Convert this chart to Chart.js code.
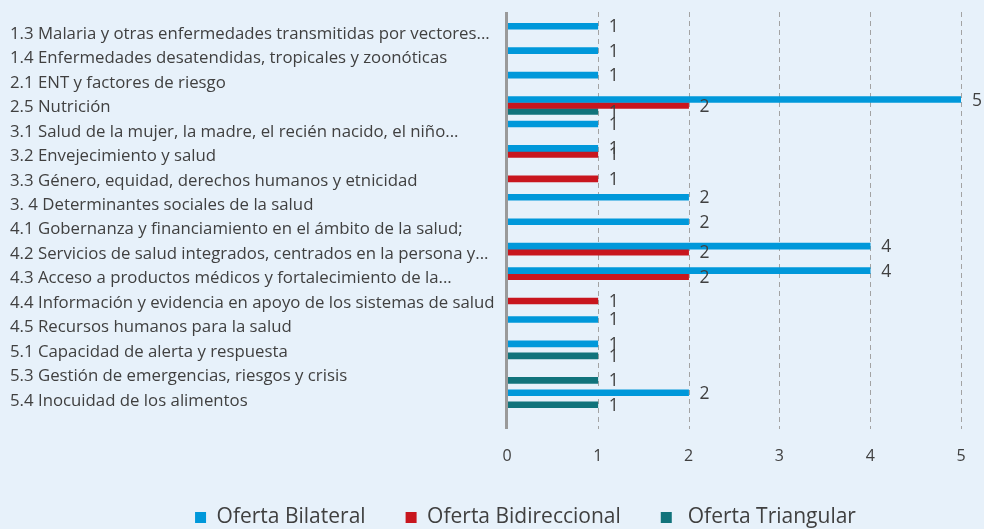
<!DOCTYPE html>
<html>
<head>
<meta charset="utf-8">
<script src="https://cdn.jsdelivr.net/npm/chart.js@4.4.1/dist/chart.umd.min.js"></script>
<style>
  html, body { margin: 0; padding: 0; background: #e7f1fa; overflow: hidden; }
  canvas { display: block; }
</style>
</head>
<body>
<canvas id="offer-chart" width="984" height="529"></canvas>
<script>
const categories = [
  '1.3 Malaria y otras enfermedades transmitidas por vectores...',
  '1.4 Enfermedades desatendidas, tropicales y zoonóticas',
  '2.1 ENT y factores de riesgo',
  '2.5 Nutrición',
  '3.1 Salud de la mujer, la madre, el recién nacido, el niño...',
  '3.2 Envejecimiento y salud',
  '3.3 Género, equidad, derechos humanos y etnicidad',
  '3. 4 Determinantes sociales de la salud',
  '4.1 Gobernanza y financiamiento en el ámbito de la salud;',
  '4.2 Servicios de salud integrados, centrados en la persona y...',
  '4.3 Acceso a productos médicos y fortalecimiento de la...',
  '4.4 Información y evidencia en apoyo de los sistemas de salud',
  '4.5 Recursos humanos para la salud',
  '5.1 Capacidad de alerta y respuesta',
  '5.3 Gestión de emergencias, riesgos y crisis',
  '5.4 Inocuidad de los alimentos'
];
const seriesNames = ['Oferta Bilateral', 'Oferta Bidireccional', ' Oferta Triangular'];
const bilateral     = [1, 1, 1, 5, 1, 1, null, 2, 2, 4, 4, null, 1, 1, null, 2];
const bidireccional = [null, null, null, 2, null, 1, 1, null, null, 2, 2, 1, null, null, null, null];
const triangular    = [null, null, null, 1, null, null, null, null, null, null, null, null, null, 1, 1, 1];
const xTicks = [0, 1, 2, 3, 4, 5];

const textColor = '#404040';
const fontFamily = '"Open Sans", sans-serif';

// dashed verticals and the grey axis run a bit past the bar area, like the original
const gridLines = {
  id: 'gridLines',
  beforeDatasetsDraw(chart) {
    const {ctx, chartArea, scales: {x}} = chart;
    ctx.save();
    ctx.strokeStyle = '#a3a3a3';
    ctx.lineWidth = 1;
    ctx.setLineDash([5, 4]);
    xTicks.slice(1).forEach(v => {
      const px = Math.round(x.getPixelForValue(v)) + 0.5;
      ctx.beginPath();
      ctx.moveTo(px, chartArea.top - 8);
      ctx.lineTo(px, chartArea.bottom + 18);
      ctx.stroke();
    });
    ctx.restore();
  },
  afterDatasetsDraw(chart) {
    const {ctx, chartArea, scales: {x}} = chart;
    const px = x.getPixelForValue(0) - 0.5;
    ctx.save();
    ctx.strokeStyle = '#9a9a9a';
    ctx.lineWidth = 3;
    ctx.beginPath();
    ctx.moveTo(px, chartArea.top - 8);
    ctx.lineTo(px, chartArea.bottom + 18);
    ctx.stroke();
    ctx.restore();
  }
};

const valueLabels = {
  id: 'valueLabels',
  afterDatasetsDraw(chart) {
    const ctx = chart.ctx;
    ctx.save();
    ctx.fillStyle = textColor;
    ctx.font = '17.5px ' + fontFamily;
    ctx.textAlign = 'left';
    ctx.textBaseline = 'middle';
    chart.data.datasets.forEach((ds, i) => {
      chart.getDatasetMeta(i).data.forEach((bar, j) => {
        if (ds.data[j] == null) return;
        ctx.fillText(ds.data[j], bar.x + 11, bar.y + 1);
      });
    });
    ctx.restore();
  }
};

// legend sits a little right of centre in the original
const legendShift = {
  id: 'legendShift',
  afterLayout(chart) {
    chart.legend.left += 40;
    chart.legend.right += 40;
  }
};

new Chart(document.getElementById('offer-chart'), {
  type: 'bar',
  data: {
    labels: categories,
    datasets: [
      { label: seriesNames[0], data: bilateral, backgroundColor: '#0098da' },
      { label: seriesNames[1], data: bidireccional, backgroundColor: '#c8161e' },
      { label: seriesNames[2], data: triangular, backgroundColor: '#11737b' }
    ]
  },
  options: {
    indexAxis: 'y',
    responsive: false,
    animation: false,
    datasets: { bar: { barThickness: 6 } },
    layout: { padding: { top: 20, left: 10, right: 23, bottom: -9 } },
    scales: {
      x: {
        min: 0,
        max: 5,
        afterBuildTicks: s => { s.ticks = xTicks.map(v => ({ value: v })); },
        afterFit: s => { s.height = 56; },
        grid: { display: false, drawTicks: true, tickLength: 18 },
        border: { display: false },
        ticks: { color: textColor, font: { size: 16, family: fontFamily }, padding: 18 }
      },
      y: {
        afterFit: s => { s.width = 497; },
        grid: { display: false },
        border: { display: false },
        ticks: {
          crossAlign: 'far',
          autoSkip: false,
          labelOffset: 2,
          color: textColor,
          font: { size: 16.8, family: fontFamily }
        }
      }
    },
    plugins: {
      tooltip: { enabled: false },
      legend: {
        position: 'bottom',
        labels: {
          boxWidth: 11,
          boxHeight: 11,
          padding: 40,
          color: textColor,
          font: { size: 21, family: fontFamily }
        }
      }
    }
  },
  plugins: [gridLines, valueLabels, legendShift]
});
</script>
</body>
</html>
